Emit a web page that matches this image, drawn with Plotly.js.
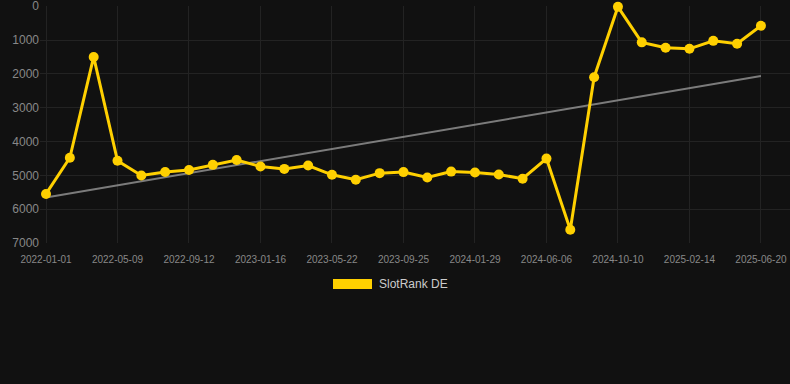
<!DOCTYPE html>
<html>
<head>
<meta charset="utf-8">
<script src="https://cdn.plot.ly/plotly-3.0.1.min.js"></script>
<style>
html,body{margin:0;padding:0;background:#111111;}
#chart{width:790px;height:384px;}
</style>
</head>
<body>
<div id="chart"></div>
<script>
const dates = [
  "2022-01-01","2022-02-12","2022-03-26","2022-05-09","2022-06-20","2022-08-01",
  "2022-09-12","2022-10-24","2022-12-05","2023-01-16","2023-02-27","2023-04-10",
  "2023-05-22","2023-07-03","2023-08-14","2023-09-25","2023-11-06","2023-12-18",
  "2024-01-29","2024-03-11","2024-04-22","2024-06-06","2024-07-18","2024-08-29",
  "2024-10-10","2024-11-21","2025-01-03","2025-02-14","2025-03-28","2025-05-09",
  "2025-06-20"
];
const rankDE = [
  5550, 4480, 1500, 4570, 5005, 4900,
  4840, 4690, 4545, 4740, 4810, 4710,
  4985, 5130, 4935, 4905, 5065, 4890,
  4915, 4975, 5100, 4505, 6610, 2100,
  20, 1070, 1230, 1260, 1025, 1110,
  580
];
const trendX = ["2022-01-01", "2025-06-20"];
const trendY = [5655, 2065];
const tickDates = ["2022-01-01","2022-05-09","2022-09-12","2023-01-16","2023-05-22",
  "2023-09-25","2024-01-29","2024-06-06","2024-10-10","2025-02-14","2025-06-20"];
const yTicks = [0,1000,2000,3000,4000,5000,6000,7000];
const seriesName = "SlotRank DE";

const yellow = "#ffd000";

// plot area in pixels: x 40..790, y 6..243
const L = 40, W = 750, T = 6, H = 237;
const px = v => (v - L) / W;
const py = v => (T + H - v) / H;

const traces = [
  {
    x: trendX, y: trendY, type: "scatter", mode: "lines",
    line: {color: "rgba(150,150,150,0.8)", width: 2},
    showlegend: false, hoverinfo: "skip"
  },
  {
    x: dates, y: rankDE, type: "scatter", mode: "lines+markers",
    line: {color: yellow, width: 3},
    marker: {color: yellow, size: 10},
    cliponaxis: false,
    showlegend: false, name: seriesName
  }
];

const layout = {
  width: 790, height: 384,
  paper_bgcolor: "#111111", plot_bgcolor: "#111111",
  margin: {l: L, r: 0, t: T, b: 384 - T - H},
  font: {family: "Liberation Sans, Arial, sans-serif", color: "#888888"},
  xaxis: {
    type: "category",
    categoryorder: "array", categoryarray: dates,
    range: [-0.252, 31.22],
    tickmode: "array", tickvals: tickDates, ticktext: tickDates,
    tickfont: {size: 10, color: "#888888"},
    ticklabelstandoff: 9,
    showgrid: true, gridcolor: "#232323", gridwidth: 1,
    zeroline: false, showline: false, ticks: ""
  },
  yaxis: {
    range: [7000, -5],
    tickmode: "array", tickvals: yTicks,
    tickfont: {size: 12, color: "#888888"},
    ticklabeloverflow: "allow",
    showgrid: true, gridcolor: "#232323", gridwidth: 1,
    zeroline: false, showline: false, ticks: ""
  },
  showlegend: false,
  shapes: [{
    type: "rect", xref: "paper", yref: "paper",
    x0: px(333), x1: px(372), y0: py(289), y1: py(279),
    fillcolor: yellow, line: {width: 0}
  }],
  annotations: [{
    text: seriesName, xref: "paper", yref: "paper",
    x: px(377), y: py(284), xanchor: "left", yanchor: "middle",
    showarrow: false, font: {size: 12, color: "#cccccc"}
  }]
};

Plotly.newPlot("chart", traces, layout, {displayModeBar: false, staticPlot: true});
</script>
</body>
</html>
